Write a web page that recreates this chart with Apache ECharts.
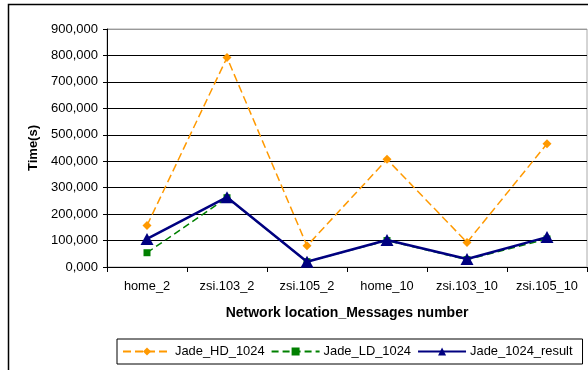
<!DOCTYPE html>
<html>
<head>
<meta charset="utf-8">
<script src="https://cdn.jsdelivr.net/npm/echarts@6/dist/echarts.min.js"></script>
<style>
  html, body { margin: 0; padding: 0; background: #fff; }
  #chart { width: 588px; height: 370px; }
</style>
</head>
<body>
<div id="chart"></div>
<script>
// Categories: network location _ number of messages
const categories = ['home_2', 'zsi.103_2', 'zsi.105_2', 'home_10', 'zsi.103_10', 'zsi.105_10'];

// Execution times per configuration
const jadeHD1024 = [157000, 792000, 80000, 407000, 93000, 466000];
const jadeLD1024 = [54000, 262000, 20000, 100000, 28000, 106000];
const jade1024Result = [106000, 264000, 20000, 102000, 30000, 113000];

const seriesNames = ['Jade_HD_1024', 'Jade_LD_1024', 'Jade_1024_result'];

const yMin = 0, yMax = 900000, yStep = 100000;

const FONT = 'Liberation Sans, Arial, sans-serif';
const chart = echarts.init(document.getElementById('chart'), null, { renderer: 'canvas' });

chart.setOption({
  backgroundColor: '#fff',
  animation: false,
  textStyle: { fontFamily: FONT, color: '#000' },
  graphic: [{
    type: 'rect',
    shape: { x: 8.5, y: 4.5, width: 700, height: 500 },
    style: { fill: 'none', stroke: '#000', lineWidth: 1.5 },
    z: -10
  }],
  grid: {
    left: 107, top: 29, right: 1, bottom: 103,
    show: true, borderColor: '#aaa', borderWidth: 1, backgroundColor: 'transparent'
  },
  legend: {
    data: seriesNames,
    left: 117, top: 339,
    orient: 'horizontal',
    itemWidth: 48, itemHeight: 10, itemGap: 6,
    padding: [6, 10, 6, 5],
    borderColor: '#000', borderWidth: 1,
    textStyle: { fontFamily: FONT, fontSize: 12.9, color: '#000', padding: [0, 0, 0, -1] }
  },
  xAxis: {
    type: 'category',
    data: categories,
    boundaryGap: true,
    name: 'Network location_Messages number',
    nameLocation: 'middle',
    nameGap: 39,
    nameTextStyle: { fontFamily: FONT, fontSize: 14, fontWeight: 'bold', color: '#000' },
    axisLine: { lineStyle: { color: '#000', width: 1 } },
    axisTick: { show: true, interval: 0, length: 5, alignWithLabel: false, lineStyle: { color: '#000' } },
    axisLabel: { interval: 0, hideOverlap: false, fontFamily: FONT, fontSize: 12.8, color: '#000', margin: 13 },
    splitLine: { show: false }
  },
  yAxis: {
    type: 'value',
    min: yMin, max: yMax, interval: yStep,
    name: 'Time(s)',
    nameLocation: 'middle',
    nameGap: 63,
    nameRotate: 90,
    nameTextStyle: { fontFamily: FONT, fontSize: 13, fontWeight: 'bold', color: '#000' },
    axisLine: { show: true, lineStyle: { color: '#000', width: 1 } },
    axisTick: { show: true, length: 4, lineStyle: { color: '#000' } },
    axisLabel: {
      fontFamily: FONT, fontSize: 13, color: '#000', margin: 9,
      formatter: v => (v / 1000) + ',000'
    },
    splitLine: {
      show: true,
      lineStyle: { color: ['#000', '#000', '#000', '#000', '#000', '#000', '#000', '#000', '#000', '#999'], width: 1 }
    }
  },
  series: [
    {
      name: seriesNames[0], type: 'line', data: jadeHD1024,
      symbol: 'diamond', symbolSize: 9,
      lineStyle: { color: '#FF9900', width: 1.5, type: [8, 4] },
      itemStyle: { color: '#FF9900' },
      z: 2
    },
    {
      name: seriesNames[1], type: 'line', data: jadeLD1024,
      symbol: 'rect', symbolSize: 7,
      lineStyle: { color: '#008000', width: 1.5, type: [7, 4] },
      itemStyle: { color: '#008000' },
      z: 3
    },
    {
      name: seriesNames[2], type: 'line', data: jade1024Result,
      symbol: 'triangle', symbolSize: [13, 12],
      lineStyle: { color: '#000080', width: 2.5 },
      itemStyle: { color: '#000080' },
      z: 4
    }
  ]
});
</script>
</body>
</html>
